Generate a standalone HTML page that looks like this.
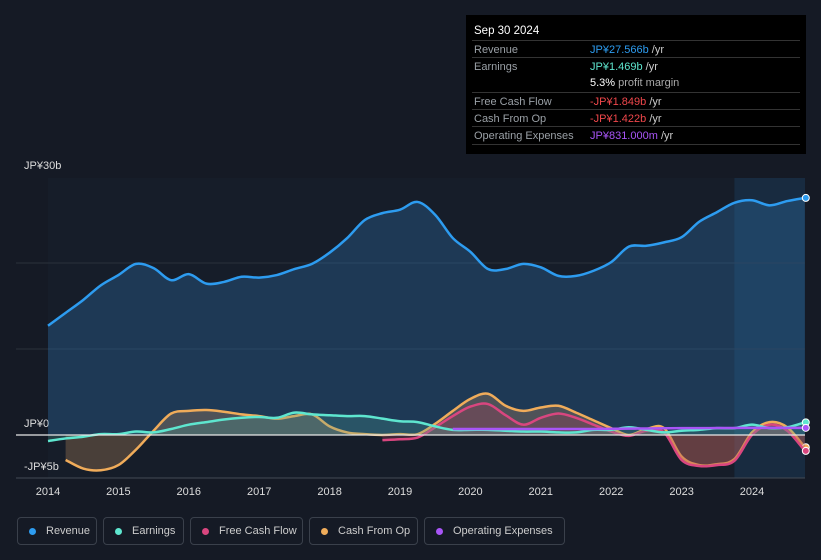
<!DOCTYPE html>
<html><head><meta charset="utf-8"><style>
body{margin:0;background:#151a25;width:821px;height:560px;overflow:hidden;font-family:"Liberation Sans",sans-serif}
#tip{position:absolute;left:466px;top:15px;width:340px;height:139px;background:#000;color:#fff;font-size:11px}
#tip .h{position:absolute;left:8px;top:10px;font-size:11.5px}
.r{position:absolute;left:6px;width:328px;border-top:1px solid #333;height:17px}
.r span{position:absolute;top:3px}
.l{left:2px;color:#9aa0a6}.v{left:118px}
.leg{position:absolute;top:517px;height:28px;border:1px solid #3a404b;border-radius:4px;color:#ccc;font-size:11px;box-sizing:border-box}
.leg i{position:absolute;left:11px;top:10px;width:7px;height:7px;border-radius:50%}
.leg span{position:absolute;left:28px;top:7px}
</style></head><body>
<svg id="c" width="821" height="560" style="position:absolute;left:0;top:0"></svg>
<div id="tip">
<div class="h">Sep 30 2024</div>
<div class="r" style="top:25px"><span class="l">Revenue</span><span class="v" style="color:#2d9cf0">JP¥27.566b <span style="position:static;color:#ccc">/yr</span></span></div>
<div class="r" style="top:42px"><span class="l">Earnings</span><span class="v" style="color:#5ee6cf">JP¥1.469b <span style="position:static;color:#ccc">/yr</span></span></div>
<div class="r" style="top:59px;border:none"><span class="v" style="color:#fff">5.3% <span style="position:static;color:#aaa">profit margin</span></span></div>
<div class="r" style="top:77px"><span class="l">Free Cash Flow</span><span class="v" style="color:#f0474b">-JP¥1.849b <span style="position:static;color:#ccc">/yr</span></span></div>
<div class="r" style="top:94px"><span class="l">Cash From Op</span><span class="v" style="color:#f0474b">-JP¥1.422b <span style="position:static;color:#ccc">/yr</span></span></div>
<div class="r" style="top:111px"><span class="l">Operating Expenses</span><span class="v" style="color:#a855f7">JP¥831.000m <span style="position:static;color:#ccc">/yr</span></span></div>
<div class="r" style="top:129px;height:0"></div>
</div>
<div class="leg" style="left:17px;width:80px"><i style="background:#2d9cf0"></i><span>Revenue</span></div>
<div class="leg" style="left:103px;width:81px"><i style="background:#5ee6cf"></i><span>Earnings</span></div>
<div class="leg" style="left:190px;width:113px"><i style="background:#d9467f"></i><span>Free Cash Flow</span></div>
<div class="leg" style="left:309px;width:109px"><i style="background:#f0ac5a"></i><span>Cash From Op</span></div>
<div class="leg" style="left:424px;width:141px"><i style="background:#a855f7"></i><span>Operating Expenses</span></div>
<script>
const years=[2014,2015,2016,2017,2018,2019,2020,2021,2022,2023,2024];
const yTicks=[30,0,-5];
const yTickLabels=["JP¥30b","JP¥0","-JP¥5b"];
const revenue=[12.7,14.2,15.7,17.4,18.6,19.9,19.4,18.0,18.7,17.6,17.8,18.4,18.3,18.6,19.3,19.9,21.2,22.9,25.0,25.8,26.2,27.1,25.6,22.9,21.3,19.3,19.3,19.9,19.5,18.5,18.5,19.1,20.1,21.9,22.0,22.4,23.0,24.8,25.9,27.0,27.3,26.7,27.2,27.57];
const earnings=[-0.7,-0.4,-0.2,0.1,0.1,0.4,0.3,0.7,1.2,1.5,1.8,2.0,2.1,2.0,2.6,2.4,2.3,2.2,2.2,1.9,1.6,1.5,1.0,0.6,0.6,0.6,0.5,0.4,0.4,0.3,0.3,0.6,0.6,0.9,0.6,0.3,0.5,0.6,0.8,0.8,1.2,0.8,0.9,1.47];
const cfoStart=2014.25;
const cfo=[-2.9,-3.9,-4.1,-3.5,-1.7,0.5,2.5,2.8,2.9,2.7,2.4,2.2,1.9,2.2,2.4,1.0,0.3,0.1,0.0,0.1,0.1,1.3,2.8,4.2,4.8,3.4,2.8,3.2,3.4,2.6,1.7,0.8,0.0,0.7,0.8,-2.5,-3.5,-3.4,-2.8,0.3,1.5,0.9,-1.42];
const fcfStart=2018.75;
const fcf=[-0.6,-0.5,-0.3,0.9,2.2,3.3,3.6,2.3,1.2,2.0,2.5,2.0,1.2,0.4,-0.1,0.5,0.3,-2.9,-3.6,-3.5,-3.0,0.0,1.2,0.5,-1.85];
const opexStart=2019.75;
const opex=[0.7,0.7,0.7,0.7,0.7,0.7,0.7,0.7,0.7,0.72,0.74,0.76,0.78,0.8,0.8,0.81,0.82,0.83,0.83,0.83,0.831];

const NS='http://www.w3.org/2000/svg',svg=document.getElementById('c');
const X=t=>48+(t-2014)*70.4, Y=v=>435-8.6*v;
function el(tag,a,p){const e=document.createElementNS(NS,tag);for(const k in a)e.setAttribute(k,a[k]);(p||svg).appendChild(e);return e;}
function pts(start,arr){return arr.map((v,i)=>[X(start+i*0.25),Y(v)]);}
function path(p){let d='M'+p[0][0]+','+p[0][1];for(let i=0;i<p.length-1;i++){const p0=p[i-1]||p[i],p1=p[i],p2=p[i+1],p3=p[i+2]||p2;
d+=` C${p1[0]+(p2[0]-p0[0])/6},${p1[1]+(p2[1]-p0[1])/6} ${p2[0]-(p3[0]-p1[0])/6},${p2[1]-(p3[1]-p1[1])/6} ${p2[0]},${p2[1]}`;}return d;}
function series(name,start,arr,color,fill,fo){const p=pts(start,arr),d=path(p);
 if(fill){const a=el('path',{d:d+` L${p[p.length-1][0]},${Y(0)} L${p[0][0]},${Y(0)} Z`,fill:fill,'fill-opacity':fo});
 }
 const l=el('path',{d:d,fill:'none',stroke:color,'stroke-width':2.5});
 
 const e=p[p.length-1];const c=el('circle',{cx:e[0]+1,cy:e[1],r:3.5,fill:color,stroke:'#fff','stroke-width':1});
 }
const bg=el('rect',{x:48,y:178,width:755,height:300,fill:'#161d29'});

const hl=el('rect',{x:X(2023.75),y:178,width:805-X(2023.75),height:300,fill:'#182b40'});

[10,20].forEach(v=>{const g=el('line',{x1:16,x2:805,y1:Y(v),y2:Y(v),stroke:'#2a313c'});
});
yTicks.forEach((v,i)=>{const t=el('text',{x:24,y:Y(v)+(v==30?-8:v==0?-8:-8),fill:'#ddd','font-size':11});t.textContent=yTickLabels[i];
});
series('revenue',2014,revenue,'#2d9cf0','#2d6fa8',0.35);
series('cash-from-op',cfoStart,cfo,'#f0ac5a','#c09060',0.3);
series('free-cash-flow',fcfStart,fcf,'#d9467f','#a03a5a',0.3);
series('earnings',2014,earnings,'#5ee6cf','#4aa89a',0.25);
series('operating-expenses',opexStart,opex,'#a855f7',null,0);
const z=el('line',{x1:16,x2:805,y1:Y(0),y2:Y(0),stroke:'#e8e8e8','stroke-width':1.2});

const ax=el('line',{x1:16,x2:805,y1:478,y2:478,stroke:'#444b55'});

years.forEach(y=>{const t=el('text',{x:X(y),y:495,fill:'#ddd','font-size':11,'text-anchor':'middle'});t.textContent=y;
});
</script>
</body></html>
